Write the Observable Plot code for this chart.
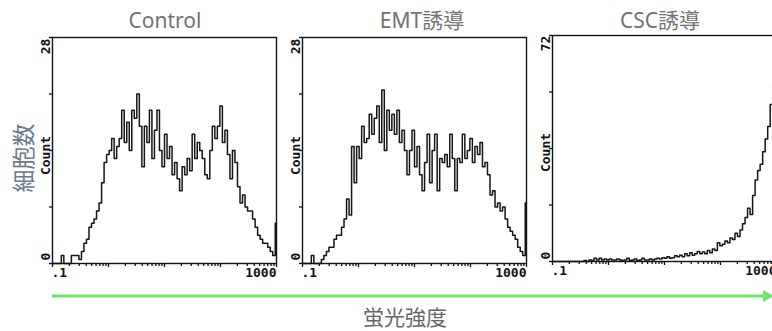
<!DOCTYPE html>
<html>
<head>
<meta charset="utf-8">
<script src="https://cdn.jsdelivr.net/npm/d3@7"></script>
<script src="https://cdn.jsdelivr.net/npm/@observablehq/plot@0.6"></script>
<style>
  html, body { margin: 0; padding: 0; background: #fff; }
  #root { position: relative; width: 772px; height: 331px; overflow: hidden; background: #fff; }
  .title { position: absolute; width: 200px; text-align: center; font-family: "Noto Sans", "Noto Sans CJK JP", sans-serif; font-size: 21px; line-height: 24px; color: #727272; top: 8px; white-space: nowrap; }
  .ylab { position: absolute; font-family: "Noto Sans CJK JP", sans-serif; font-size: 23px; line-height: 24px; color: #6c7a8c; white-space: nowrap; transform: translate(-50%, -50%) rotate(-90deg); left: 22px; top: 158px; }
  .xlab { position: absolute; left: 305px; width: 200px; text-align: center; font-family: "Noto Sans CJK JP", sans-serif; font-size: 21px; line-height: 22px; color: #666; top: 305px; }
  .panel { position: absolute; }
</style>
</head>
<body>
<div id="root">
  <div class="title" style="left:65px">Control</div>
  <div class="title" style="left:322px">EMT誘導</div>
  <div class="title" style="left:560px">CSC誘導</div>
  <div class="ylab">細胞数</div>
  <div class="xlab">蛍光強度</div>
  <svg width="772" height="331" style="position:absolute;left:0;top:0;pointer-events:none">
    <line x1="52" y1="296" x2="765" y2="296" stroke="#6ae86a" stroke-width="3"/>
    <polygon points="774,296 763,290 763,302" fill="#6ae86a"/>
  </svg>
</div>
<script>
// Panel titles
const titles = ["Control", "EMT誘導", "CSC誘導"];
// y-axis maxima (top tick labels)
const yMax = [28, 28, 72];
// x-axis tick labels
const xTickLabels = [".1", "1000"];
const xMajorTicks = [0.1, 1, 10, 100, 1000];
const xMinorTicks = [0.2,0.3,0.4,0.5,0.6,0.7,0.8,0.9, 2,3,4,5,6,7,8,9, 20,30,40,50,60,70,80,90, 200,300,400,500,600,700,800,900];

// Histogram counts per log-spaced channel (0.1 → 1000)
const controlCounts = [
  0,0,0,0,1,0,0,0,1,1, 1,0.5,1.5,2.5,3,4.5,5,5.5,6.5,7.5,
  10,12.5,13.5,14,15.5,13,14.5,15.5,19,15, 17.5,14,19,18,21,17,12,17,15,19,
  13,16.5,19,14,12,16,13,14.5,11,12.5, 10.5,9,12,11,13,11.5,16,13,15,14,
  13,11,10.5,14,17,15.5,17,19.5,15,16.5, 13.5,10.5,14,12.5,9.5,7.5,8.5,7,6.5,6.5,
  5.5,4.5,3.5,3,2.5,2.5,2,1.5,1,5
];
const emtCounts = [
  0,0,0,0,1,0,0,0,0.5,1, 1.5,2,2,3,3.5,3.5,4.5,5.5,8,6,
  14.5,10,14.5,13,17,15,15.5,18.5,16,18, 19.5,15,21.5,14,19,16.5,18.5,16,19,15,
  16.5,14,11,14,16.5,12,14.5,11,9,12.5, 16,10,14,16,9,13,12.5,13.5,12,16,
  13,9,13,12.5,16,13,14,15.5,12.5,14.5, 13.5,15,12,12.5,11,8.5,9,7,7.5,6.5,
  7,5.5,4.5,4,3.5,3,2,1.5,1,7.5
];
const cscCounts = [
  0,0,0,0,0,0,0,0,0,0, 0,0,0,0.3,0,0.5,0.3,1,0.5,1,
  0.5,0.8,0.5,0.8,0.5,0.5,0.8,0.5,0.3,0.5, 1,0.3,0.5,0.8,0.3,0.5,1,0.5,0.5,0.8,
  0.5,0.8,1,0.8,1.2,1,1.5,1,1.2,1.8, 1.5,2,1.5,2.5,1.8,2.8,2,2.5,3.2,2.5,
  3,2.5,3.5,2.8,4,3.5,6,5,5.5,6.5, 6,7.5,7,9,8,10,12,14,17,15,
  21,26,29,31,35,39,43,50,57,64
];
const series = [controlCounts, emtCounts, cscCounts];

const positions = [
  {left: 32, top: 31},
  {left: 282, top: 31},
  {left: 532, top: 29}
];
const labelDy = [
  {top: 9, mid: 5, zero: -7},
  {top: 9, mid: 5, zero: -7},
  {top: 8, mid: 4, zero: -6}
];

function makePanel(counts, ymax, dys) {
  const n = counts.length;
  const data = counts.map((c, i) => ({x: 0.1 * Math.pow(10, 4 * i / (n - 1)), y: c}));
  return Plot.plot({
    width: 248, height: 254,
    marginLeft: 20, marginRight: 4, marginTop: 6, marginBottom: 22,
    x: {type: "log", domain: [0.1, 1000], label: null},
    y: {domain: [0, ymax], label: null},
    style: {fontFamily: "'DejaVu Sans Mono', monospace", fontWeight: "bold", fontSize: "13px", color: "#111", background: "transparent", overflow: "visible"},
    marks: [
      Plot.line(data, {x: "x", y: "y", curve: "step", stroke: "#161616", strokeWidth: 1.5}),
      Plot.frame({stroke: "#111", strokeWidth: 1.4}),
      Plot.axisX({ticks: xMinorTicks, tickSize: 3, text: null, strokeWidth: 1.3}),
      Plot.axisX({ticks: xMajorTicks, tickSize: 4, text: null, strokeWidth: 1.3}),
      Plot.axisX({ticks: [xMajorTicks[0]], tickSize: 0, tickPadding: 4, textAnchor: "start", dx: -1, tickFormat: () => xTickLabels[0]}),
      Plot.axisX({ticks: [xMajorTicks[4]], tickSize: 0, tickPadding: 4, textAnchor: "end", tickFormat: () => xTickLabels[1]}),
      Plot.axisY({ticks: [0, ymax / 4, ymax / 2, 3 * ymax / 4, ymax], tickSize: 3, text: null, strokeWidth: 1.3}),
      Plot.axisY({ticks: [ymax], tickSize: 0, tickPadding: 3, tickRotate: -90, dy: dys.top, tickFormat: d => String(d)}),
      Plot.axisY({ticks: [ymax / 2], tickSize: 0, tickPadding: 3, tickRotate: -90, dy: dys.mid, tickFormat: () => "Count"}),
      Plot.axisY({ticks: [0], tickSize: 0, tickPadding: 3, tickRotate: -90, dy: dys.zero, tickFormat: () => "0"})
    ]
  });
}

const root = document.getElementById("root");
series.forEach((counts, k) => {
  const el = makePanel(counts, yMax[k], labelDy[k]);
  el.classList.add("panel");
  el.setAttribute("aria-label", titles[k]);
  el.style.left = positions[k].left + "px";
  el.style.top = positions[k].top + "px";
  root.appendChild(el);
});
</script>
</body>
</html>
